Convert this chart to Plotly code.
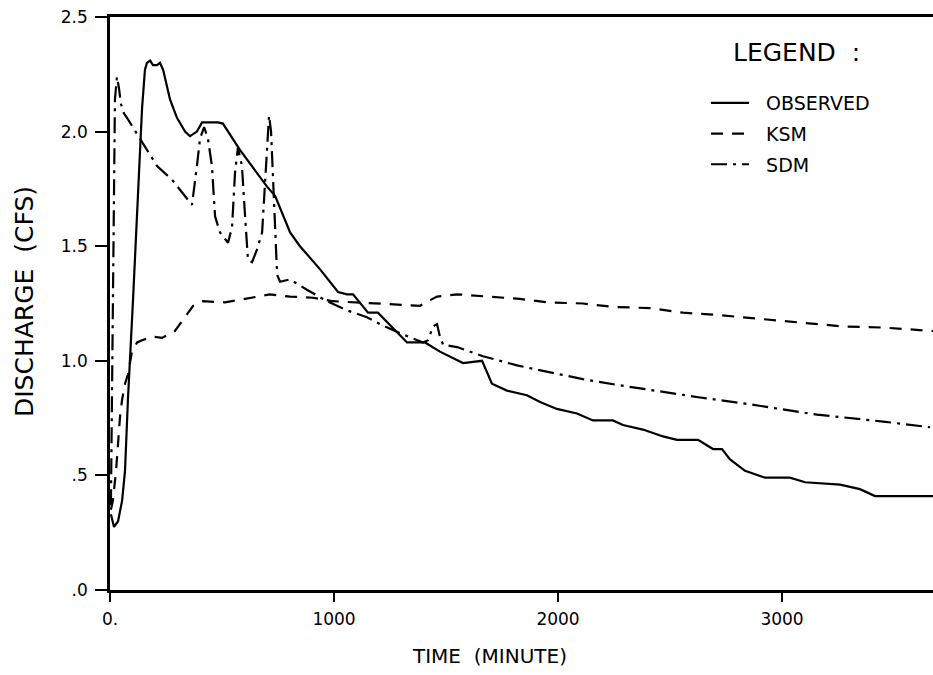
import plotly.graph_objects as go

# ---- data (time in minutes, discharge in cfs) ----
obs_t = [4, 18, 36, 54, 67, 80, 103, 125, 143, 156, 165, 179, 192, 210, 223, 237, 268, 299, 335, 357,
         375, 388, 411, 482, 504, 580, 701, 737, 804, 848, 937, 1018, 1058, 1085, 1152, 1196, 1326, 1406,
         1473, 1576, 1661, 1705, 1772, 1861, 1920, 1995, 2085, 2156, 2245, 2290, 2379, 2469, 2531, 2625,
         2692, 2732, 2768, 2835, 2924, 3035, 3103, 3259, 3348, 3415, 3674]
obs_q = [0.33, 0.275, 0.30, 0.39, 0.52, 0.83, 1.27, 1.72, 2.10, 2.27, 2.30, 2.31, 2.29, 2.29, 2.30, 2.27,
         2.14, 2.06, 2.00, 1.98, 1.99, 2.00, 2.04, 2.04, 2.035, 1.92, 1.76, 1.72, 1.56, 1.50, 1.40, 1.30,
         1.29, 1.29, 1.21, 1.21, 1.08, 1.08, 1.04, 0.99, 1.00, 0.90, 0.87, 0.85, 0.82, 0.79, 0.77, 0.74,
         0.74, 0.72, 0.70, 0.67, 0.655, 0.655, 0.615, 0.615, 0.57, 0.52, 0.49, 0.49, 0.47, 0.46, 0.44,
         0.41, 0.41]

ksm_t = [4, 13, 27, 36, 45, 54, 67, 80, 98, 121, 143, 192, 232, 290, 348, 371, 415, 513, 603, 714, 804,
         906, 995, 1085, 1174, 1281, 1384, 1420, 1460, 1549, 1683, 1830, 1951, 2111, 2245, 2411, 2558,
         2710, 2991, 3272, 3451, 3674]
ksm_q = [0.35, 0.39, 0.52, 0.66, 0.76, 0.83, 0.90, 0.94, 1.04, 1.08, 1.09, 1.105, 1.10, 1.13, 1.21, 1.24,
         1.26, 1.255, 1.27, 1.29, 1.28, 1.275, 1.26, 1.255, 1.25, 1.245, 1.24, 1.26, 1.28, 1.29, 1.28,
         1.27, 1.255, 1.25, 1.235, 1.23, 1.21, 1.20, 1.175, 1.15, 1.145, 1.13]

sdm_t = [4, 13, 22, 31, 40, 49, 62, 76, 134, 210, 277, 335, 366, 388, 402, 420, 437, 455, 469, 491, 527,
         545, 558, 571, 589, 603, 616, 634, 656, 679, 692, 710, 719, 728, 737, 746, 759, 786, 804, 879,
         969, 1058, 1147, 1205, 1295, 1397, 1420, 1442, 1460, 1473, 1487, 1549, 1665, 1817, 1964, 2111,
         2263, 2487, 2634, 2857, 3156, 3451, 3661]
sdm_q = [0.37, 1.27, 2.14, 2.24, 2.19, 2.12, 2.08, 2.06, 1.97, 1.85, 1.79, 1.72, 1.68, 1.85, 1.97, 2.02,
         1.97, 1.85, 1.63, 1.56, 1.515, 1.585, 1.82, 1.93, 1.85, 1.63, 1.44, 1.43, 1.485, 1.56, 1.78, 2.07,
         2.00, 1.78, 1.56, 1.375, 1.345, 1.35, 1.355, 1.31, 1.26, 1.22, 1.19, 1.16, 1.12, 1.08, 1.09, 1.15,
         1.16, 1.105, 1.07, 1.06, 1.02, 0.98, 0.95, 0.92, 0.895, 0.86, 0.84, 0.81, 0.765, 0.735, 0.71]

x_tickvals = [0, 1000, 2000, 3000]
x_ticktext = ["0.", "1000", "2000", "3000"]
y_tickvals = [0, 0.5, 1.0, 1.5, 2.0, 2.5]
y_ticktext = [".0", ".5", "1.0", "1.5", "2.0", "2.5"]

FONT = "DejaVu Sans"
NB = "\u00a0"

fig = go.Figure()
fig.add_trace(go.Scatter(x=obs_t, y=obs_q, mode="lines", name=NB * 2 + "OBSERVED", legendgroup="a",
                         line=dict(color="black", width=2.2)))
fig.add_trace(go.Scatter(x=ksm_t, y=ksm_q, mode="lines", name=NB * 2 + "KSM", legendgroup="b",
                         line=dict(color="black", width=2.2, dash="12px,9px")))
fig.add_trace(go.Scatter(x=sdm_t, y=sdm_q, mode="lines", name=NB * 2 + "SDM", legendgroup="c",
                         line=dict(color="black", width=2.2, dash="16px,6px,3px,6px")))

fig.update_layout(
    width=933, height=675,
    margin=dict(l=110, r=0, t=17, b=85),
    paper_bgcolor="white", plot_bgcolor="white",
    font=dict(family=FONT, color="black"),
    showlegend=True,
    legend=dict(
        x=(706 - 110) / 823, y=(590 - 84) / 573, xanchor="left", yanchor="top",
        bgcolor="rgba(0,0,0,0)", borderwidth=0,
        font=dict(size=19, family=FONT),
        itemwidth=38,
        tracegroupgap=3,
    ),
    xaxis=dict(
        range=[0, 3674], showgrid=False, zeroline=False,
        showline=True, linecolor="black", linewidth=2.5, mirror=True,
        ticks="outside", ticklen=9, tickwidth=2, tickcolor="black",
        tickvals=x_tickvals, ticktext=x_ticktext,
        tickfont=dict(size=17, family=FONT),
        ticklabelstandoff=3,
    ),
    yaxis=dict(
        range=[0, 2.5], showgrid=False, zeroline=False,
        showline=True, linecolor="black", linewidth=2.5, mirror=False,
        ticks="outside", ticklen=12, tickwidth=2, tickcolor="black",
        tickvals=y_tickvals, ticktext=y_ticktext,
        tickfont=dict(size=17, family=FONT),
        ticklabelstandoff=4,
    ),
    annotations=[
        dict(text="LEGEND" + NB * 2 + ":", xref="paper", yref="paper",
             x=(796 - 110) / 823, y=(590 - 53) / 573,
             showarrow=False, font=dict(size=25, family=FONT),
             xanchor="center", yanchor="middle"),
        dict(text="DISCHARGE" + NB * 2 + "(CFS)", xref="paper", yref="paper",
             x=(24 - 110) / 823, y=(590 - 302) / 573, textangle=-90,
             showarrow=False, font=dict(size=25, family=FONT),
             xanchor="center", yanchor="middle"),
        dict(text="TIME" + NB * 2 + "(MINUTE)", xref="paper", yref="paper",
             x=(489 - 110) / 823, y=(590 - 656) / 573,
             showarrow=False, font=dict(size=20, family=FONT),
             xanchor="center", yanchor="middle"),
    ],
)

fig.write_html("out.html")
